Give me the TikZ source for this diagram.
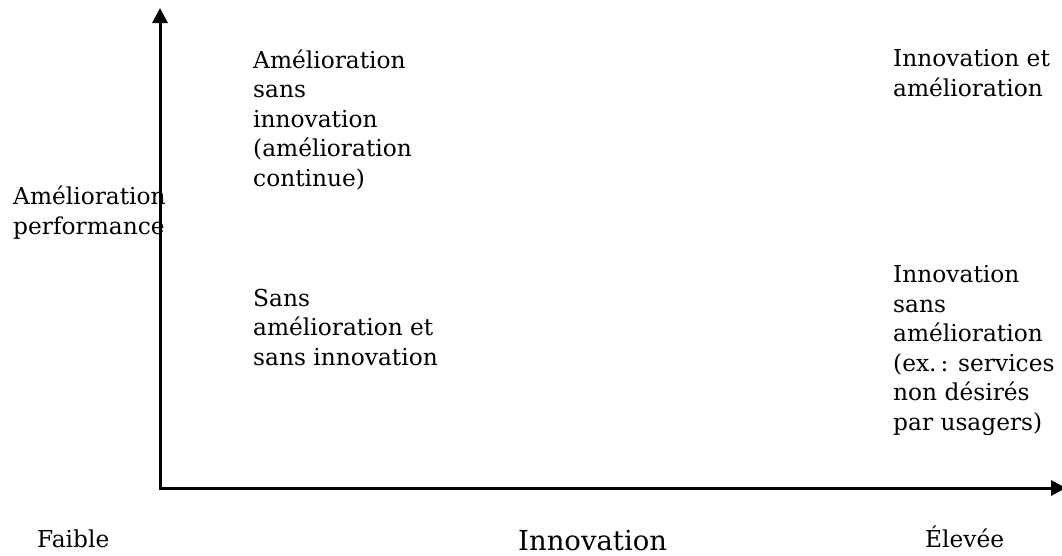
\documentclass[tikz,border=0pt]{standalone}
\usepackage{fontspec}
\setmainfont{DejaVu Serif}
\usetikzlibrary{arrows.meta}

\begin{document}
\begin{tikzpicture}
  [x=1pt,y=-1pt,
   every node/.style={inner sep=0pt,anchor=base west,align=left,
     font=\fontsize{23.3}{29.5}\selectfont},
   axe/.style={line width=3pt,
     {Triangle[length=15pt,width=15pt]}-{Triangle[length=15pt,width=15pt]}}]
  \useasboundingbox (0,0) rectangle (1062,555);

  % axes
  \coordinate (o) at (160,488);
  \coordinate (ytip) at (160,8);
  \coordinate (xtip) at (1066,488);
  \draw[axe] (ytip) -- (o) -- (xtip);

  % quadrants (base = last line)
  \node (hg) at (253,186) {Amélioration\\sans\\innovation\\(amélioration\\continue)};
  \node (hd) at (893,96) {Innovation et\\amélioration};
  \node (bg) at (253,365) {Sans\\amélioration et\\sans innovation};
  \node (bd) at (893,430) {Innovation\\sans\\amélioration\\(ex.\,: services\\non désirés\\par usagers)};

  % axis labels
  \node (ylab) at (13,234) {Amélioration\\performance};
  \node (faible) at (37,547) {Faible};
  \node[font=\fontsize{27.5}{33}\selectfont] (xlab) at (518,550) {Innovation};
  \node (elevee) at (925,547) {Élevée};

\end{tikzpicture}
\end{document}
